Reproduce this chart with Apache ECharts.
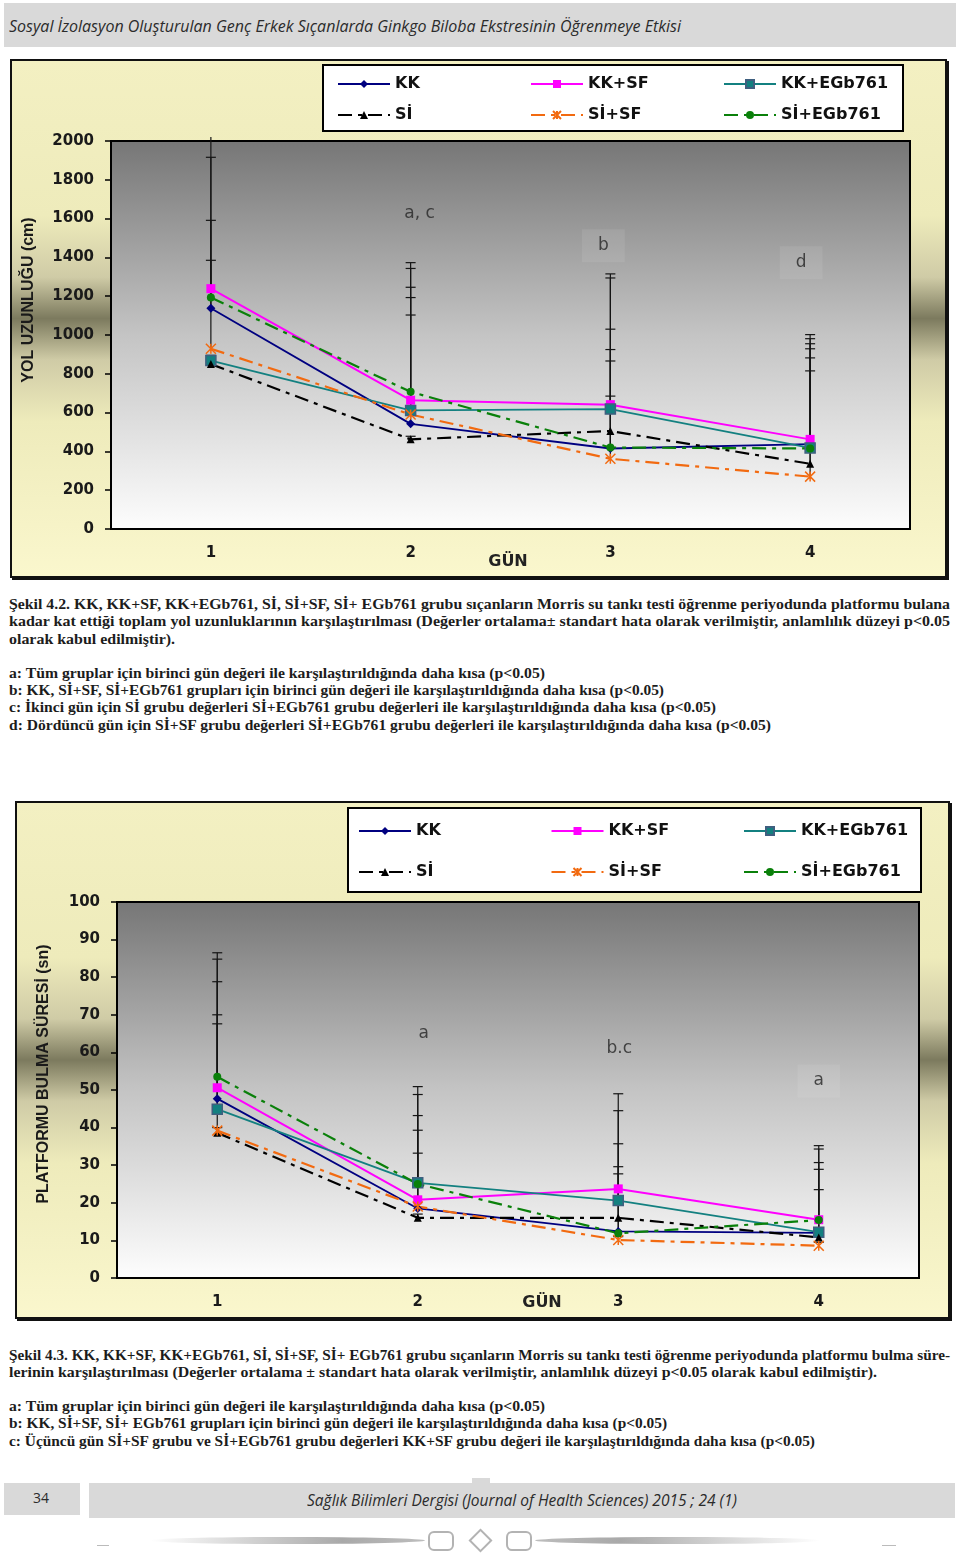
<!DOCTYPE html>
<html>
<head>
<meta charset="utf-8">
<script src="https://cdn.jsdelivr.net/npm/echarts@6/dist/echarts.min.js"></script>
<style>
  body { margin:0; background:#fff; width:960px; height:1553px; position:relative; overflow:hidden; }
  .abs { position:absolute; }
  .band { position:absolute; background:#d9d9d9; }
  .fit { position:absolute; white-space:nowrap; display:inline-block; transform-origin:0 50%; }
  .hd { font-family:'Open Sans', sans-serif; font-style:italic; font-size:17px; color:#2b2b2b; line-height:22px; }
  .cap { font-family:'Liberation Serif', serif; font-weight:bold; font-size:15px; color:#1c1c1c; line-height:18px; }
  .frame { position:absolute; border:2px solid #111; box-shadow:2px 2px 0 #111;
    background:linear-gradient(to bottom, #f3f0c2 0%, #eeebbb 30%, #cfcba6 42%, #7c7a5e 50%, #cfcba6 58%, #eeebbb 70%, #faf7cd 100%); }
</style>
</head>
<body>

<div class="band" style="left:4px;top:3px;width:952px;height:44px"></div>
<span class="fit hd" data-w="672" style="left:9px;top:15px">Sosyal İzolasyon Oluşturulan Genç Erkek Sıçanlarda Ginkgo Biloba Ekstresinin Öğrenmeye Etkisi</span>

<div class="frame" style="left:10px;top:59px;width:933px;height:515px"><div id="c1" style="width:933px;height:515px"></div></div>

<span class="fit cap" data-w="941" style="left:9px;top:595px">Şekil 4.2. KK, KK+SF, KK+EGb761, Sİ, Sİ+SF, Sİ+ EGb761 grubu sıçanların Morris su tankı testi öğrenme periyodunda platformu bulana</span>
<span class="fit cap" data-w="941" style="left:9px;top:612px">kadar kat ettiği toplam yol uzunluklarının karşılaştırılması (Değerler ortalama± standart hata olarak verilmiştir, anlamlılık düzeyi p&lt;0.05</span>
<span class="fit cap" data-w="166" style="left:9px;top:630px">olarak kabul edilmiştir).</span>
<span class="fit cap" data-w="536" style="left:9px;top:664px">a: Tüm gruplar için birinci gün değeri ile karşılaştırıldığında daha kısa (p&lt;0.05)</span>
<span class="fit cap" data-w="655" style="left:9px;top:681px">b: KK, Sİ+SF, Sİ+EGb761 grupları için birinci gün değeri ile karşılaştırıldığında daha kısa (p&lt;0.05)</span>
<span class="fit cap" data-w="707" style="left:9px;top:698px">c: İkinci gün için Sİ grubu değerleri Sİ+EGb761 grubu değerleri ile karşılaştırıldığında daha kısa (p&lt;0.05)</span>
<span class="fit cap" data-w="762" style="left:9px;top:716px">d: Dördüncü gün için Sİ+SF grubu değerleri Sİ+EGb761 grubu değerleri ile karşılaştırıldığında daha kısa (p&lt;0.05)</span>

<div class="frame" style="left:15px;top:801px;width:931px;height:514px"><div id="c2" style="width:931px;height:514px"></div></div>

<span class="fit cap" data-w="941" style="left:9px;top:1346px">Şekil 4.3. KK, KK+SF, KK+EGb761, Sİ, Sİ+SF, Sİ+ EGb761 grubu sıçanların Morris su tankı testi öğrenme periyodunda platformu bulma süre-</span>
<span class="fit cap" data-w="868" style="left:9px;top:1363px">lerinin karşılaştırılması (Değerler ortalama ± standart hata olarak verilmiştir, anlamlılık düzeyi p&lt;0.05 olarak kabul edilmiştir).</span>
<span class="fit cap" data-w="536" style="left:9px;top:1397px">a: Tüm gruplar için birinci gün değeri ile karşılaştırıldığında daha kısa (p&lt;0.05)</span>
<span class="fit cap" data-w="658" style="left:9px;top:1414px">b: KK, Sİ+SF, Sİ+ EGb761 grupları için birinci gün değeri ile karşılaştırıldığında daha kısa (p&lt;0.05)</span>
<span class="fit cap" data-w="806" style="left:9px;top:1432px">c: Üçüncü gün Sİ+SF grubu ve Sİ+EGb761 grubu değerleri KK+SF grubu değeri ile karşılaştırıldığında daha kısa (p&lt;0.05)</span>

<!-- alt bilgi -->
<div class="band" style="left:4px;top:1483px;width:76px;height:32px"></div>
<div class="band" style="left:89px;top:1483px;width:866px;height:35px"></div>
<div class="band" style="left:472px;top:1478px;width:18px;height:6px"></div>
<span class="fit hd" data-w="16" style="left:33px;top:1486px;font-style:normal;font-size:15px">34</span>
<span class="fit hd" data-w="430" style="left:307px;top:1489px;font-size:16px">Sağlık Bilimleri Dergisi (Journal of Health Sciences) 2015 ; 24 (1)</span>
<div class="abs" style="left:150px;top:1537px;width:275px;height:7px;border-radius:50%;background:linear-gradient(to right, rgba(170,170,170,0), #a9a9a9 70%, #bdbdbd)"></div>
<div class="abs" style="left:535px;top:1537px;width:285px;height:7px;border-radius:50%;background:linear-gradient(to left, rgba(170,170,170,0), #a9a9a9 70%, #bdbdbd)"></div>
<div class="abs" style="left:428px;top:1531px;width:22px;height:16px;border:2px solid #b3b3b3;border-radius:6px"></div>
<div class="abs" style="left:472px;top:1532px;width:13px;height:13px;border:2px solid #b3b3b3;transform:rotate(45deg)"></div>
<div class="abs" style="left:506px;top:1531px;width:22px;height:16px;border:2px solid #b3b3b3;border-radius:6px"></div>
<div class="abs" style="left:97px;top:1545px;width:12px;height:1px;background:#bbb"></div>
<div class="abs" style="left:882px;top:1545px;width:14px;height:1px;background:#bbb"></div>

<script>
// gün kategorileri ve gruplar
var days = ['1', '2', '3', '4'];
var groups = ['KK', 'KK+SF', 'KK+EGb761', 'Sİ', 'Sİ+SF', 'Sİ+EGb761'];

// Şekil 4.2 - yol uzunluğu (cm), ortalamalar
var yolKK = [1138, 542, 415, 437];
var yolKKSF = [1239, 664, 641, 462];
var yolKKEGb = [868, 611, 618, 418];
var yolSI = [850, 462, 505, 336];
var yolSISF = [929, 590, 362, 270];
var yolSIEGb = [1193, 707, 420, 415];
// ortalama + standart hata (hata çubuğu ucu)
var yolKKTop = [1591, 1103, 866, 929];
var yolKKSFTop = [2021, 1343, 1315, 1002];
var yolKKEGbTop = [895, 1246, 1294, 981];
var yolSITop = [875, 478, 1030, 882];
var yolSISFTop = [1385, 1193, 685, 815];
var yolSIEGbTop = [1916, 1373, 925, 955];
var yolNoteDays = ['2', '3', '4'];
var yolNoteVals = [1625, 1460, 1373];
var yolNoteText = ['a, c', 'b', 'd'];

// Şekil 4.3 - platformu bulma süresi (sn)
var sureKK = [47.7, 18.5, 12.4, 12.0];
var sureKKSF = [50.6, 20.8, 23.7, 15.5];
var sureKKEGb = [44.9, 25.3, 20.6, 12.2];
var sureSI = [38.6, 16.0, 16.0, 10.8];
var sureSISF = [39.2, 19.0, 10.1, 8.6];
var sureSIEGb = [53.5, 25.0, 11.9, 15.4];
var sureKKTop = [78.8, 39.3, 29.6, 28.9];
var sureKKSFTop = [84.8, 43.2, 49.0, 34.3];
var sureKKEGbTop = [70.0, 50.9, 44.5, 30.7];
var sureSITop = [40.0, 17.0, 35.7, 23.5];
var sureSISFTop = [67.6, 33.2, 11.0, 9.5];
var sureSIEGbTop = [86.5, 48.8, 27.7, 35.2];
var sureNoteDays = ['2', '3', '4'];
var sureNoteVals = [65.0, 61.0, 52.4];
var sureNoteText = ['a', 'b.c', 'a'];

// yazı genişliklerini orijinale uydur
document.querySelectorAll('.fit').forEach(function (el) {
    var w = el.getBoundingClientRect().width;
    el.style.transform = 'scaleX(' + (+el.getAttribute('data-w') / w) + ')';
});

var starPath = 'path://M0,0L10,10M10,0L0,10M5,0L5,10';
var dash = [14, 6, 4, 6];
var looks = [
    { color: '#000080', symbol: 'diamond', size: 9, type: 'solid', width: 1.8 },
    { color: '#ff00ff', symbol: 'rect', size: 9, type: 'solid', width: 2 },
    { color: '#138080', symbol: 'rect', size: 10, type: 'solid', width: 1.8, border: '#3f5f7f' },
    { color: '#000000', symbol: 'triangle', size: 8, type: dash, width: 2.2 },
    { color: '#f26a10', symbol: starPath, size: 10, type: dash, width: 2.2, border: '#f26a10' },
    { color: '#0a800a', symbol: 'circle', size: 8, type: dash, width: 2.2 }
];

function errSeries(means, tops, max) {
    return {
        type: 'custom', silent: true, z: 1, clip: false,
        data: means.map(function (m, i) { return [i, m, tops[i]]; }),
        encode: { x: 0, y: [1, 2] },
        renderItem: function (params, api) {
            var a = api.coord([api.value(0), api.value(1)]);
            var b = api.coord([api.value(0), api.value(2)]);
            var kids = [{ type: 'line', shape: { x1: a[0], y1: a[1], x2: b[0], y2: b[1] }, style: { stroke: '#151515', lineWidth: 1.2 } }];
            if (api.value(2) <= max) {
                kids.push({ type: 'line', shape: { x1: b[0] - 5, y1: b[1], x2: b[0] + 5, y2: b[1] }, style: { stroke: '#151515', lineWidth: 1.2 } });
            }
            return { type: 'group', children: kids };
        }
    };
}

function buildOption(o) {
    var series = [];
    o.tops.forEach(function (t, i) { series.push(errSeries(o.means[i], t, o.max)); });
    o.means.forEach(function (m, i) {
        var lk = looks[i];
        series.push({
            name: groups[i], type: 'line', data: m, z: 3,
            symbol: lk.symbol, symbolSize: lk.size,
            lineStyle: { color: lk.color, width: lk.width, type: lk.type },
            itemStyle: { color: lk.color, borderColor: lk.border || lk.color, borderWidth: lk.border ? 1.5 : 0 }
        });
    });
    series.push({
        type: 'scatter', silent: true, symbolSize: 1, z: 4,
        itemStyle: { color: 'rgba(0,0,0,0)' },
        data: o.noteVals.map(function (v, i) {
            return {
                value: [o.noteDays[i], v],
                label: { offset: o.noteShift[i], backgroundColor: o.noteBox[i] ? 'rgba(255,255,255,0.10)' : 'transparent', padding: [8, 16] }
            };
        }),
        label: {
            show: true, position: 'inside', fontFamily: 'DejaVu Sans', fontSize: 17, color: '#262626',
            formatter: function (p) { return o.noteText[p.dataIndex]; }
        }
    });

    // her lejant öğesi kendi sütununa
    var legends = groups.map(function (g, i) {
        return {
            data: [g], selectedMode: false, padding: 0, z: 6,
            left: o.legX + (i % 3) * o.legPitch, top: o.legY[Math.floor(i / 3)] - 5,
            itemWidth: 52, itemHeight: 10,
            textStyle: { fontFamily: 'DejaVu Sans', fontWeight: 'bold', fontSize: 16, color: '#111' }
        };
    });
    var labelStyle = { margin: 17, fontSize: 15, fontWeight: 'bold', color: '#1a1a1a' };
    return {
        animation: false,
        backgroundColor: 'transparent',
        textStyle: { fontFamily: 'DejaVu Sans' },
        grid: {
            left: o.grid[0], top: o.grid[1], width: o.grid[2], height: o.grid[3], show: true,
            backgroundColor: new echarts.graphic.LinearGradient(0, 0, 0, 1, [
                { offset: 0, color: '#767676' }, { offset: 0.5, color: '#c4c4c4' }, { offset: 1, color: '#fdfdfd' }]),
            borderColor: '#000', borderWidth: 2
        },
        legend: legends,
        graphic: [
            { type: 'rect', z: 1, shape: { x: o.box[0], y: o.box[1], width: o.box[2], height: o.box[3] }, style: { fill: '#fff', stroke: '#000', lineWidth: 2 } },
            { type: 'text', z: 5, x: o.gun[0], y: o.gun[1], style: { text: 'GÜN', font: 'bold 16px "DejaVu Sans"', fill: '#222', align: 'center', verticalAlign: 'middle' } }
        ],
        xAxis: {
            type: 'category', data: days, boundaryGap: true,
            axisLine: { lineStyle: { color: '#000', width: 2 } },
            axisTick: { length: 6, lineStyle: { color: '#000', width: 1.5 } },
            axisLabel: labelStyle
        },
        yAxis: {
            type: 'value', min: 0, max: o.max, interval: o.step,
            name: o.yName, nameLocation: 'middle', nameGap: o.nameGap,
            nameTextStyle: { fontFamily: 'Liberation Sans', fontWeight: 'bold', fontSize: 16, color: '#1a1a1a', padding: [0, 0, 0, o.nameShift] },
            axisLine: { show: true, lineStyle: { color: '#000', width: 2 } },
            axisTick: { show: true, length: 6, lineStyle: { color: '#000', width: 1.5 } },
            splitLine: { show: false },
            axisLabel: Object.assign({ formatter: function (v) { return String(v); } }, labelStyle)
        },
        series: series
    };
}

var chartYol = echarts.init(document.getElementById('c1'));
chartYol.setOption(buildOption({
    means: [yolKK, yolKKSF, yolKKEGb, yolSI, yolSISF, yolSIEGb],
    tops: [yolKKTop, yolKKSFTop, yolKKEGbTop, yolSITop, yolSISFTop, yolSIEGbTop],
    max: 2000, step: 200, yName: 'YOL UZUNLUĞU (cm)', nameGap: 74, nameShift: 70,
    grid: [99, 80, 799, 388],
    box: [311, 4, 580, 66], legX: 325, legY: [20, 51], legPitch: 193,
    gun: [496, 501],
    noteDays: yolNoteDays, noteVals: yolNoteVals, noteText: yolNoteText,
    noteShift: [[9, 0], [-7, 0], [-9, 0]], noteBox: [false, true, true]
}));

var chartSure = echarts.init(document.getElementById('c2'));
chartSure.setOption(buildOption({
    means: [sureKK, sureKKSF, sureKKEGb, sureSI, sureSISF, sureSIEGb],
    tops: [sureKKTop, sureKKSFTop, sureKKEGbTop, sureSITop, sureSISFTop, sureSIEGbTop],
    max: 100, step: 10, yName: 'PLATFORMU BULMA SÜRESİ (sn)', nameGap: 65, nameShift: 32,
    grid: [100, 99, 802, 376],
    box: [331, 5, 573, 84], legX: 341, legY: [25, 66], legPitch: 192.5,
    gun: [525, 500],
    noteDays: sureNoteDays, noteVals: sureNoteVals, noteText: sureNoteText,
    noteShift: [[6, 0], [1, 0], [0, 0]], noteBox: [false, false, true]
}));
</script>
</body>
</html>
